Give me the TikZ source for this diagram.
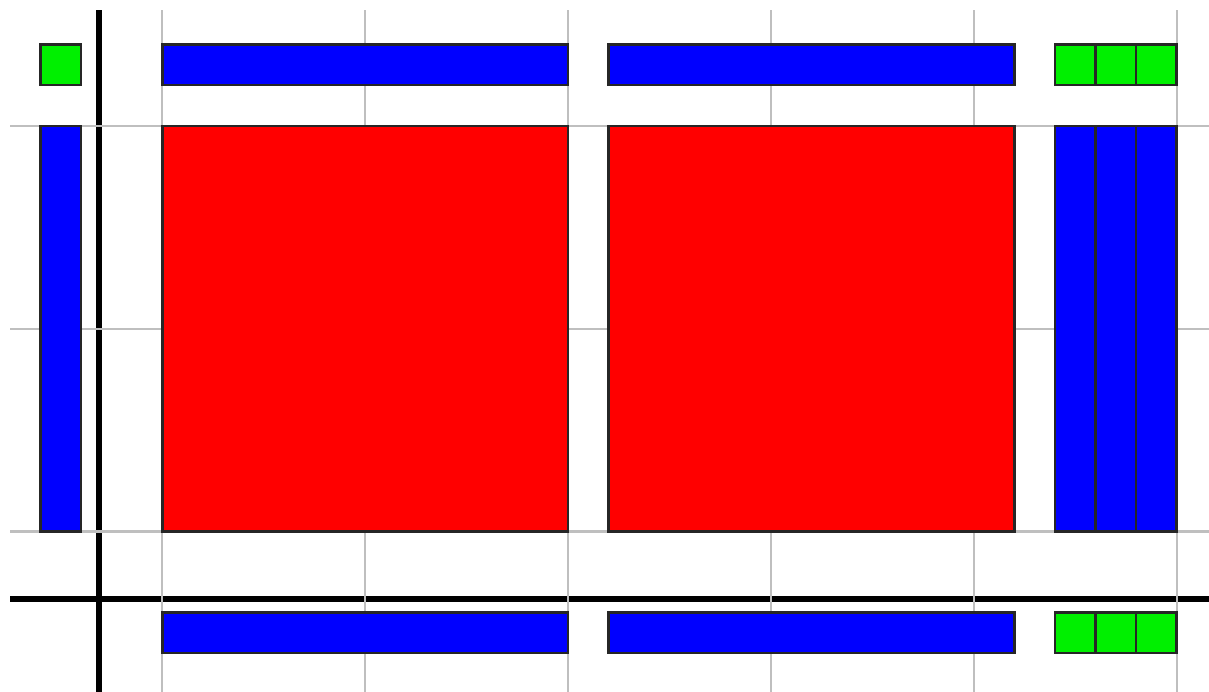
\documentclass[tikz,border=0pt]{standalone}
\usepackage{tikz}
\usepackage{xcolor}

\begin{document}
\begin{tikzpicture}[
    gridline/.style={line width=.3pt,gray!50},
    axisline/.style={line width=.85pt,black},
    blk/.style={draw=black!85,line width=.35pt},
    redblk/.style={blk,fill=red},
    blueblk/.style={blk,fill=blue},
    greenblk/.style={blk,fill=green!90!black!60!green}
  ]
    \useasboundingbox (-.8,-.79) rectangle (5.16,2.62);
    \draw[axisline] (-.31,-.79) -- (-.31,2.57);
    \draw[axisline] (-.75,-.335) -- (5.16,-.335);
    \foreach \x in {0,...,5} {\draw[gridline] (\x,-.79) -- (\x,2.57);}
    \foreach \y in {0,1,2} {\draw[gridline] (-.75,\y) -- (5.16,\y);}
    \foreach \x in {0,2.2} {
      \draw[redblk] (\x,0) rectangle ++(2,2);
      \draw[blueblk] (\x,2.2) rectangle ++(2,.2);
      \draw[blueblk] (\x,-.6) rectangle ++(2,.2);
    }
    \draw[blueblk] (-.6,0) rectangle (-.4,2);
    \draw[greenblk] (-.6,2.2) rectangle (-.4,2.4);
    \foreach \x in {4.4,4.6,4.8} {
      \draw[blueblk] (\x,0) rectangle ++(.2,2);
      \draw[greenblk] (\x,2.2) rectangle ++(.2,.2);
      \draw[greenblk] (\x,-.6) rectangle ++(.2,.2);
    }
\end{tikzpicture}
\end{document}
